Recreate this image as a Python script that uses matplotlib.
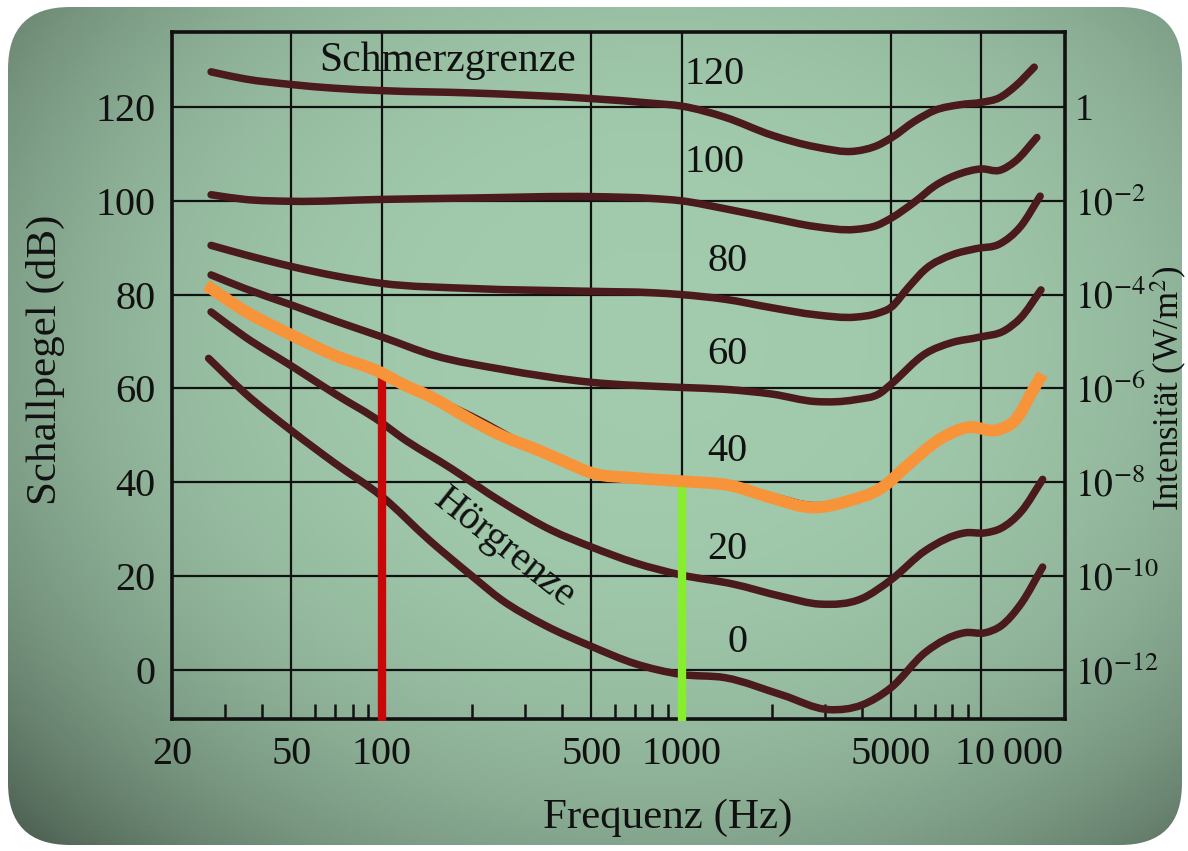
import matplotlib
matplotlib.use("Agg")
import matplotlib.pyplot as plt
import matplotlib.transforms as mtransforms
import numpy as np
from matplotlib.patches import FancyBboxPatch, PathPatch
from matplotlib.path import Path
from matplotlib.transforms import IdentityTransform

plt.rcParams['font.family'] = ['Liberation Serif', 'DejaVu Serif']
plt.rcParams['mathtext.fontset'] = 'stix'

# ---------------- data ----------------
f120 = [27, 35, 50, 70, 100, 200, 500, 800, 1000, 1400, 2000, 2800, 3800, 4500, 5000, 6000, 7000, 8500, 10000, 11500, 13000, 15000]
L120 = [127.5, 126, 124.8, 124, 123.5, 123, 121.8, 120.8, 120.2, 117.8, 114, 111.5, 110.6, 111.8, 113.4, 117, 119.3, 120.5, 121, 122, 124.5, 128.5]

f100 = [27, 35, 50, 100, 200, 500, 800, 1000, 1400, 2000, 2800, 3800, 4500, 5000, 6000, 7000, 8500, 10000, 11500, 13000, 15300]
L100 = [101.3, 100.3, 99.9, 100.3, 100.6, 100.9, 100.5, 100, 98.3, 96.3, 94.5, 93.9, 94.8, 96.3, 99.8, 103.2, 105.8, 106.8, 106.5, 108.5, 113.5]

f80 = [27, 35, 50, 70, 100, 200, 500, 800, 1000, 1400, 2000, 2800, 3800, 4500, 5000, 5700, 6500, 8000, 9600, 11500, 13500, 15700]
L80 = [90.5, 88.5, 86, 84, 82.4, 81.3, 80.7, 80.4, 80, 79, 77.2, 75.7, 75.2, 76, 77.3, 81.5, 85.4, 88.5, 89.8, 90.8, 94.5, 101]

f60 = [27, 35, 50, 70, 100, 150, 250, 500, 1000, 1400, 2000, 2800, 3800, 4600, 5000, 6500, 8000, 9800, 12000, 13500, 15800]
L60 = [84.2, 81.3, 77.8, 74.4, 71, 67, 64.1, 61.3, 60.2, 59.8, 58.8, 57.2, 57.6, 59, 60.9, 67.4, 69.8, 70.9, 72.4, 75, 81]

f40 = [27, 35, 50, 70, 100, 150, 200, 300, 500, 1000, 1500, 2000, 2800, 3600, 4600, 5700, 7200, 9000, 11400, 13000, 15500]
L40 = [81, 76.5, 71, 67, 63, 57.8, 54, 48, 42, 40, 39, 37, 35, 36.2, 39, 44, 49.3, 51.5, 51, 53.5, 61]

f20 = [27, 35, 50, 70, 100, 115, 170, 250, 370, 500, 700, 1000, 1480, 2170, 2900, 4000, 5000, 6500, 8850, 10300, 11650, 13600, 16000]
L20 = [76.3, 71, 64.8, 58.8, 52.7, 49.8, 43, 35.9, 29.7, 26.2, 22.8, 20.2, 18.3, 15.6, 14, 15.2, 19.2, 25.4, 29.2, 29.2, 30.2, 33.8, 40.6]

f0 = [26.5, 35, 50, 70, 100, 145, 200, 250, 350, 500, 700, 1000, 1400, 2170, 3100, 4000, 5000, 6500, 8800, 10300, 11650, 13600, 16000]
L0 = [66.4, 59, 51, 44, 37, 27.5, 20, 15, 9.5, 5, 1.3, -1, -1.7, -5.4, -8.5, -7.5, -3.8, 3.7, 7.9, 7.9, 9.4, 14.2, 21.9]

f_orange = [26, 35, 50, 70, 100, 115, 150, 190, 250, 340, 420, 500, 700, 1000, 1480, 1920, 2800, 3600, 4650, 5700, 7200, 9000, 11400, 13000, 15100, 16000]
L_orange = [82, 76.5, 71.4, 67, 63.3, 61.2, 57.8, 54, 50, 46.6, 44, 42, 40.9, 40.2, 39.2, 37, 34.6, 36, 38.8, 43.7, 49, 51.7, 51.2, 53.3, 60.4, 63]

marker_freqs = [100, 1000]
marker_tops = [63, 39]
marker_colors = ['#c80808', '#86ee2e']

curve_labels = ['120', '100', '80', '60', '40', '20', '0']
curve_label_f = [1290, 1290, 1420, 1420, 1420, 1420, 1540]
curve_label_L = [126.9, 108.1, 87, 67.2, 46.5, 25.6, 5.8]

level_ticks = [0, 20, 40, 60, 80, 100, 120]
intensity_labels = ['$10^{-12}$', '$10^{-10}$', '$10^{-8}$', '$10^{-6}$', '$10^{-4}$', '$10^{-2}$', '1']
freq_ticks = [20, 50, 100, 500, 1000, 5000, 10000]
freq_labels = ['20', '50', '100', '500', '1000', '5000', '10\u2009000']
freq_minor = [30, 40, 60, 70, 80, 90, 200, 300, 400, 600, 700, 800, 900,
              2000, 3000, 4000, 6000, 7000, 8000, 9000]


def smooth_curve(ax, fr, lv, **kw):
    """Draw a smooth cubic (Hermite/Bezier) curve through the read points on the log axis."""
    u = np.log10(np.asarray(fr, float))
    L = np.asarray(lv, float)
    n = len(u)
    d = np.diff(L) / np.diff(u)
    m = np.empty(n)
    m[0], m[-1] = d[0], d[-1]
    for i in range(1, n - 1):
        h0, h1 = u[i] - u[i - 1], u[i + 1] - u[i]
        m[i] = (d[i - 1] * h1 + d[i] * h0) / (h0 + h1)
    verts = [(10 ** u[0], L[0])]
    codes = [Path.MOVETO]
    for i in range(n - 1):
        h = u[i + 1] - u[i]
        verts += [(10 ** (u[i] + h / 3), L[i] + m[i] * h / 3),
                  (10 ** (u[i + 1] - h / 3), L[i + 1] - m[i + 1] * h / 3),
                  (10 ** u[i + 1], L[i + 1])]
        codes += [Path.CURVE4] * 3
    patch = PathPatch(Path(verts, codes), fill=False, transform=ax.transData, **kw)
    ax.add_patch(patch)
    return patch


# ---------------- figure ----------------
W, H = 1188, 851
fig = plt.figure(figsize=(W / 100, H / 100), dpi=100, facecolor='white')

# photo-like background with rounded corners
bgax = fig.add_axes([0, 0, 1, 1], zorder=-5)
bgax.set_xlim(0, 1)
bgax.set_ylim(0, 1)
bgax.axis('off')
yy, xx = np.mgrid[0:1:200j, 0:1:280j]
base = np.array([0.60, 0.75, 0.64])
r = np.hypot((xx - 0.55) / 0.62, (yy - 0.40) / 0.70)
shade = 1.06 - 0.32 * np.clip(r, 0, 1.45) ** 3
img = np.clip(base[None, None, :] * shade[:, :, None], 0, 1)
im = bgax.imshow(img, extent=[0, 1, 0, 1], aspect='auto', origin='upper', zorder=0)
clip = FancyBboxPatch((8, 6), 1174, 838, boxstyle='round,pad=0,rounding_size=62',
                      transform=IdentityTransform(), facecolor='none', edgecolor='none')
bgax.add_patch(clip)
im.set_clip_path(clip)

ax = fig.add_axes([172 / W, 1 - 719 / H, 893 / W, 687 / H])
ax.set_facecolor('none')
ax.set_xscale('log')
ax.set_xlim(20, 19000)
ax.set_ylim(-10.5, 136)

ax.set_xticks(freq_ticks)
ax.set_xticklabels(freq_labels)
ax.set_xticks(freq_minor, minor=True)
ax.xaxis.set_minor_formatter(matplotlib.ticker.NullFormatter())
ax.set_yticks(level_ticks)
ax.set_yticklabels([str(v) for v in level_ticks])
ax.tick_params(axis='both', which='major', length=0, labelsize=29, pad=12, colors='#111111')
ax.tick_params(axis='x', which='minor', direction='in', length=11, width=1.8, color='#111111')
ax.grid(True, which='major', color='#111111', lw=1.6)
for s in ax.spines.values():
    s.set_linewidth(2.6)
    s.set_color('#111111')

# nudge the "10 000" label to the right as in the reference
fig.canvas.draw()
lab = ax.xaxis.get_major_ticks()[-1].label1
lab.set_horizontalalignment('left')
lab.set_transform(lab.get_transform() + mtransforms.ScaledTranslation(-26 / 100, 0, fig.dpi_scale_trans))

ax2 = ax.twinx()
ax2.set_ylim(ax.get_ylim())
ax2.set_yticks(level_ticks)
ax2.set_yticklabels(intensity_labels)
ax2.tick_params(axis='y', length=0, labelsize=27, pad=7, colors='#111111')
for s in ax2.spines.values():
    s.set_visible(False)

dark = '#4a1a1d'
for fr, lv in [(f120, L120), (f100, L100), (f80, L80), (f60, L60), (f40, L40), (f20, L20), (f0, L0)]:
    smooth_curve(ax, fr, lv, edgecolor=dark, lw=5.4, capstyle='round', joinstyle='round', zorder=3)

ax.vlines(marker_freqs, -10.9, marker_tops, colors=marker_colors, lw=6, zorder=4, clip_on=False)
smooth_curve(ax, f_orange, L_orange, edgecolor='#f7943a', lw=8.5, capstyle='butt', joinstyle='round', zorder=5)

for t, fx, ly in zip(curve_labels, curve_label_f, curve_label_L):
    ax.text(fx, ly, t, fontsize=29, ha='center', va='center', color='#111111', zorder=6)
ax.text(166, 129.8, 'Schmerzgrenze', fontsize=30, ha='center', va='center', color='#111111', zorder=6)
ax.text(257, 26, 'Hörgrenze', fontsize=29, ha='center', va='center', rotation=-38.5,
        rotation_mode='anchor', color='#111111', zorder=6)

fig.text(45 / W, 1 - 360 / H, 'Schallpegel (dB)', rotation=90, fontsize=31,
         ha='center', va='center', color='#111111')
fig.text(668 / W, 1 - 818 / H, 'Frequenz (Hz)', fontsize=31,
         ha='center', va='center', color='#111111')
fig.text(1169 / W, 1 - 388 / H, 'Intensität (W/m$^2$)', rotation=90, fontsize=25,
         ha='center', va='center', color='#111111')

fig.savefig('out.png', dpi=100, facecolor='white')
